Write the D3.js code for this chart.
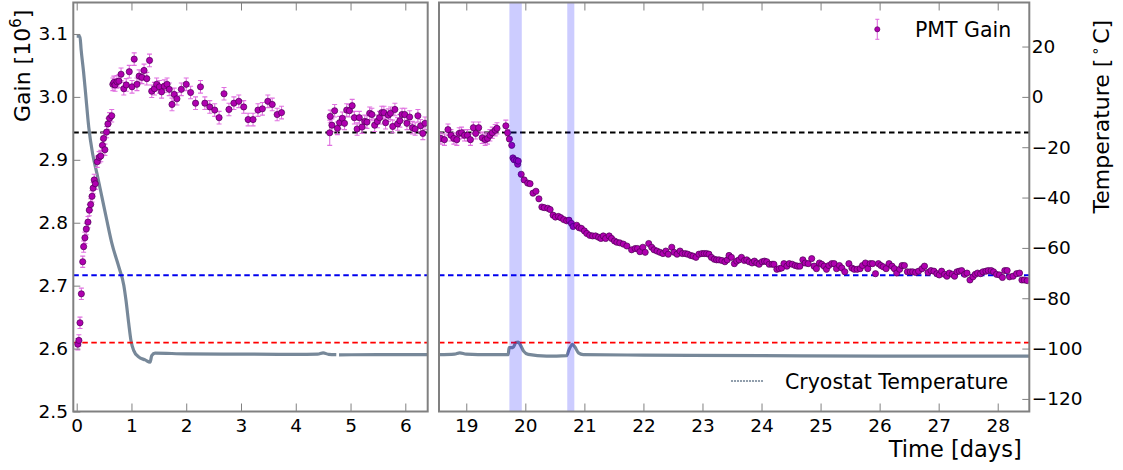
<!DOCTYPE html>
<html>
<head>
<meta charset="utf-8">
<script src="https://cdn.jsdelivr.net/npm/d3@7"></script>
<style>
  html, body { margin: 0; padding: 0; background: #fff; }
  svg { display: block; font-family: "DejaVu Sans", sans-serif; }
</style>
</head>
<body>
<svg id="chart" width="1123" height="470"></svg>
<script>
// ---- PMT gain, first period (days 0 - 6.4) ----
const gainDaysA = [0.02,0.04,0.06,0.085,0.11,0.127,0.15,0.175,0.206,0.23,0.255,0.28,0.30,0.32,0.34,0.376,0.41,0.44,0.47,0.49,0.515,0.545,0.57,0.60,0.64,
  0.66,0.68,0.70,0.735,0.77,0.81,0.86,0.905,0.96,1.01,1.05,1.10,1.14,1.19,1.23,1.28,1.33,1.37,1.42,1.46,1.51,1.55,1.60,1.65,1.69,1.74,1.78,1.83,1.91,
  2.00,2.08,2.17,2.26,2.34,2.43,2.52,2.60,2.69,2.78,2.87,2.96,3.05,3.13,3.22,3.31,3.39,3.49,3.57,3.66,3.74,
  4.62,4.63,4.66,4.71,4.76,4.80,4.85,4.89,4.93,4.98,5.03,5.07,5.12,5.16,5.21,5.26,5.30,5.35,5.39,5.44,5.49,5.53,5.57,5.61,5.64,5.69,5.73,5.77,5.81,5.86,5.90,5.94,5.99,6.03,6.08,6.13,6.18,6.23,6.28,6.32,6.36];
const gainValsA = [2.607,2.613,2.641,2.687,2.738,2.762,2.776,2.790,2.801,2.820,2.829,2.842,2.855,2.868,2.862,2.897,2.904,2.906,2.923,2.934,2.916,2.944,2.957,2.966,2.970,
  3.020,3.023,3.019,3.024,3.025,3.036,3.013,3.019,3.040,3.016,3.060,3.020,3.033,3.031,3.042,3.029,3.058,3.009,3.013,3.020,3.016,3.008,3.017,3.020,3.012,2.988,3.004,2.997,3.012,
  3.020,3.007,2.990,3.016,2.990,2.984,2.979,2.967,3.005,2.980,2.990,2.993,2.984,2.964,2.964,2.979,2.981,2.993,2.988,2.972,2.975,
  2.943,2.969,2.955,2.978,2.950,2.959,2.966,2.958,2.979,2.978,2.986,2.967,2.949,2.967,2.952,2.961,2.960,2.974,2.972,2.955,2.961,2.967,2.975,2.975,2.959,2.971,2.974,2.953,2.980,2.957,2.962,2.972,2.972,2.958,2.968,2.951,2.949,2.970,2.954,2.942,2.958];
const gainErrsA = [0.009,0.009,0.009,0.009,0.009,0.009,0.009,0.009,0.009,0.009,0.009,0.009,0.009,0.009,0.009,0.009,0.009,0.009,0.009,0.009,0.009,0.009,0.009,0.009,0.010,
  0.010,0.010,0.010,0.010,0.010,0.010,0.010,0.010,0.010,0.010,0.010,0.010,0.010,0.010,0.010,0.010,0.010,0.010,0.010,0.010,0.010,0.010,0.010,0.010,0.010,0.010,0.010,0.010,0.010,
  0.010,0.010,0.010,0.010,0.010,0.010,0.010,0.010,0.010,0.010,0.010,0.010,0.010,0.010,0.010,0.010,0.010,0.010,0.010,0.010,0.010,
  0.020,0.010,0.010,0.010,0.010,0.010,0.010,0.010,0.010,0.010,0.010,0.010,0.010,0.010,0.010,0.010,0.010,0.010,0.010,0.010,0.010,0.010,0.010,0.010,0.010,0.010,0.010,0.010,0.010,0.010,0.010,0.010,0.010,0.010,0.010,0.010,0.010,0.010,0.010,0.010,0.010];

// ---- PMT gain, second period (days 18.5 - 28.5) ----
const gainDaysB = [18.57,18.63,18.69,18.74,18.79,18.84,18.88,18.92,18.97,19.02,19.07,19.12,19.16,19.21,19.27,19.32,19.36,19.40,19.44,19.49,19.52,19.67,19.70,
  19.73,19.77,19.79,19.81,19.85,19.87,19.88,19.93,19.98,20.04,20.08,20.13,20.18,20.23,20.28,20.32,20.38,20.42,20.47,20.51,20.56,20.60,20.65,20.70,20.74,20.78,20.81,20.87,20.91,20.95,
  21.00,21.04,21.09,21.14,21.19,21.24,21.28,21.32,21.36,21.42,21.46,21.51,21.55,21.60,21.66,21.72,21.80,21.86,21.90,21.94,21.99,
  22.03,22.09,22.14,22.18,22.23,22.28,22.33,22.38,22.42,22.48,22.52,22.57,22.62,22.66,22.71,22.75,22.80,22.84,22.89,22.94,22.99,
  23.03,23.07,23.11,23.15,23.20,23.24,23.28,23.33,23.38,23.42,23.45,23.49,23.54,23.58,23.62,23.66,23.71,23.75,23.79,23.84,23.88,23.92,23.96,
  24.01,24.05,24.09,24.13,24.18,24.21,24.26,24.30,24.34,24.38,24.43,24.47,24.52,24.57,24.61,24.65,24.70,24.74,24.79,24.85,24.89,24.93,24.98,
  25.02,25.06,25.10,25.14,25.19,25.23,25.27,25.32,25.36,25.41,25.48,25.53,25.57,25.62,25.67,25.71,25.76,25.80,25.84,25.88,25.93,25.98,
  26.02,26.06,26.11,26.16,26.21,26.25,26.29,26.34,26.38,26.42,26.47,26.52,26.56,26.61,26.66,26.72,26.76,26.82,26.87,26.92,26.97,
  27.01,27.05,27.10,27.14,27.18,27.23,27.27,27.31,27.35,27.39,27.44,27.48,27.53,27.58,27.62,27.66,27.71,27.75,27.80,27.84,27.89,27.93,27.98,
  28.03,28.08,28.12,28.16,28.20,28.26,28.32,28.37,28.41,28.45,28.50];
const gainValsB = [2.934,2.932,2.948,2.939,2.934,2.932,2.942,2.943,2.939,2.939,2.932,2.951,2.942,2.951,2.935,2.932,2.934,2.939,2.943,2.947,2.950,2.954,2.943,
  2.933,2.923,2.903,2.900,2.899,2.893,2.898,2.877,2.868,2.863,2.862,2.847,2.850,2.838,2.825,2.824,2.823,2.821,2.812,2.809,2.810,2.808,2.805,2.803,2.804,2.799,2.794,2.796,2.792,2.791,
  2.787,2.783,2.780,2.779,2.779,2.777,2.775,2.779,2.775,2.779,2.775,2.771,2.769,2.768,2.766,2.763,2.757,2.759,2.759,2.754,2.761,
  2.753,2.767,2.761,2.757,2.755,2.753,2.751,2.755,2.750,2.761,2.753,2.750,2.755,2.751,2.751,2.750,2.748,2.747,2.745,2.750,2.751,
  2.751,2.751,2.750,2.745,2.742,2.741,2.741,2.740,2.738,2.741,2.748,2.745,2.735,2.739,2.741,2.745,2.740,2.741,2.738,2.736,2.739,2.736,2.734,
  2.738,2.739,2.738,2.734,2.734,2.734,2.726,2.727,2.728,2.735,2.731,2.735,2.734,2.732,2.731,2.731,2.741,2.736,2.735,2.743,2.731,2.727,2.736,
  2.734,2.731,2.726,2.732,2.735,2.735,2.727,2.732,2.728,2.722,2.735,2.728,2.726,2.726,2.727,2.732,2.736,2.727,2.735,2.735,2.719,2.735,
  2.732,2.730,2.727,2.735,2.731,2.727,2.720,2.726,2.732,2.732,2.722,2.722,2.722,2.721,2.723,2.727,2.731,2.721,2.724,2.723,2.719,
  2.717,2.723,2.718,2.715,2.720,2.718,2.715,2.722,2.723,2.724,2.718,2.720,2.709,2.714,2.718,2.720,2.719,2.722,2.723,2.724,2.724,2.722,2.718,
  2.717,2.713,2.724,2.724,2.714,2.715,2.719,2.720,2.709,2.709,2.708];
const gainErrsB = [0.009,0.009,0.009,0.009,0.009,0.009,0.009,0.009,0.009,0.009,0.009,0.009,0.009,0.009,0.009,0.009,0.009,0.009,0.009,0.009,0.009,0.009,0.005];

// ---- Cryostat temperature (deg C) ----
const tempDaysA = [0.0,0.02,0.06,0.08,0.125,0.16,0.22,0.29,0.37,0.46,0.55,0.64,0.77,0.86,0.90,0.95,0.99,1.04,1.13,1.25,1.34,1.37,1.43,2.0,3.0,4.0,4.4,4.5,4.6,4.74,null,4.79,5.5,6.41];
const tempValsA = [24.1,24.1,24.0,19.0,10.0,2.0,-12.0,-22.5,-30.5,-39.7,-49.0,-58.0,-67.6,-74.8,-80.8,-90.0,-96.7,-100.7,-103.3,-104.5,-105.4,-102.8,-101.8,-102.1,-102.2,-102.3,-102.2,-101.7,-102.3,-102.4,null,-102.5,-102.4,-102.4];
const tempDaysB = [18.54,18.8,18.89,19.0,19.4,19.71,19.725,19.79,19.84,19.88,19.92,19.97,20.05,20.36,20.70,20.74,20.80,20.84,20.90,20.98,22.0,24.0,26.0,28.54];
const tempValsB = [-102.4,-102.2,-101.7,-102.2,-102.4,-102.4,-99.6,-99.6,-97.6,-97.4,-98.7,-101.0,-102.3,-103.0,-102.8,-100.4,-98.3,-99.4,-101.7,-102.4,-102.6,-102.8,-103.0,-103.0];

// ---- reference gain levels and shaded intervals ----
const refLevels = [2.9434, 2.7165, 2.6095];
const refColors = ["#000000", "#0000ee", "#ff0000"];
const bandStarts = [19.73, 20.71];
const bandEnds = [19.94, 20.83];

const xTicksA = [0,1,2,3,4,5,6];
const xTicksB = [19,20,21,22,23,24,25,26,27,28];
const gainTicks = [2.5,2.6,2.7,2.8,2.9,3.0,3.1];
const tempTicks = [-120,-100,-80,-60,-40,-20,0,20];

// ---------------------------------------------------------------
const svg = d3.select("#chart");
const plotTop = 2.5, plotBottom = 411.5;
const gray = "#808080";
const markFill = "#b000b0", markStroke = "#4d0055", errColor = "#e070e0";
const tempColor = "#778899";

const y = d3.scaleLinear().domain([2.5, 3.15]).range([plotBottom, plotTop]);
const yT = d3.scaleLinear().domain([-125, 37.5]).range([plotBottom, plotTop]);

const panels = [
  { id: "a", x0: 73.3, x1: 427.7, domain: [-0.062, 6.409], days: gainDaysA, vals: gainValsA, errs: gainErrsA,
    tDays: tempDaysA, tVals: tempValsA, ticks: xTicksA },
  { id: "b", x0: 439, x1: 1029.3, domain: [18.538, 28.535], days: gainDaysB, vals: gainValsB, errs: gainErrsB,
    tDays: tempDaysB, tVals: tempValsB, ticks: xTicksB }
];

const defs = svg.append("defs");

panels.forEach(p => {
  const x = d3.scaleLinear().domain(p.domain).range([p.x0, p.x1]);
  defs.append("clipPath").attr("id", "clip-" + p.id)
    .append("rect").attr("x", p.x0).attr("y", plotTop).attr("width", p.x1 - p.x0).attr("height", plotBottom - plotTop);

  const g = svg.append("g").attr("clip-path", `url(#clip-${p.id})`);

  // temperature trace
  const line = d3.line()
    .defined((d, i) => p.tDays[i] !== null)
    .x((d, i) => x(p.tDays[i]))
    .y((d, i) => yT(p.tVals[i]))
    .curve(d3.curveMonotoneX);
  g.append("path").datum(p.tVals).attr("d", line)
    .attr("fill", "none").attr("stroke", tempColor).attr("stroke-width", 3.2)
    .attr("stroke-linejoin", "round");

  // reference levels
  refLevels.forEach((lv, i) => {
    g.append("line").attr("x1", p.x0).attr("x2", p.x1)
      .attr("y1", y(lv)).attr("y2", y(lv))
      .attr("stroke", refColors[i]).attr("stroke-width", 1.8)
      .attr("stroke-dasharray", "5.5,3.5");
  });

  // error bars
  const pts = p.days.map((d, i) => ({ t: d, v: p.vals[i], e: i < p.errs.length ? p.errs[i] : 0 }));
  const eb = g.append("g").attr("stroke", errColor).attr("stroke-width", 1.1);
  pts.filter(d => d.e > 0).forEach(d => {
    const cx = x(d.t), ya = y(d.v - d.e), yb = y(d.v + d.e);
    eb.append("line").attr("x1", cx).attr("x2", cx).attr("y1", ya).attr("y2", yb);
    eb.append("line").attr("x1", cx - 2.5).attr("x2", cx + 2.5).attr("y1", ya).attr("y2", ya);
    eb.append("line").attr("x1", cx - 2.5).attr("x2", cx + 2.5).attr("y1", yb).attr("y2", yb);
  });

  // gain markers
  g.append("g").selectAll("circle").data(pts).join("circle")
    .attr("cx", d => x(d.t)).attr("cy", d => y(d.v)).attr("r", 3.1)
    .attr("fill", markFill).attr("stroke", markStroke).attr("stroke-width", 0.7);

  // shaded intervals
  bandStarts.forEach((b, i) => {
    if (b >= p.domain[0] && b <= p.domain[1]) {
      g.append("rect").attr("x", x(b)).attr("width", x(bandEnds[i]) - x(b))
        .attr("y", plotTop).attr("height", plotBottom - plotTop)
        .attr("fill", "rgb(0,0,255)").attr("fill-opacity", 0.2);
    }
  });

  // x axes (ticks inside on top and bottom)
  const axB = svg.append("g").attr("transform", `translate(0,${plotBottom})`)
    .call(d3.axisBottom(x).tickValues(p.ticks).tickFormat(d3.format("d")).tickSize(-8).tickPadding(7.4));
  const axT = svg.append("g").attr("transform", `translate(0,${plotTop})`)
    .call(d3.axisTop(x).tickValues(p.ticks).tickFormat("").tickSize(-8));
  [axB, axT].forEach(a => {
    a.select(".domain").remove();
    a.selectAll(".tick line").attr("stroke", gray).attr("stroke-width", 1);
  });
  axB.selectAll("text").attr("font-size", 18.5).attr("fill", "#000").attr("font-family", "DejaVu Sans");

  // frame
  svg.append("rect").attr("x", p.x0).attr("y", plotTop).attr("width", p.x1 - p.x0).attr("height", plotBottom - plotTop)
    .attr("fill", "none").attr("stroke", gray).attr("stroke-width", 2);
});

// left gain axis
const axL = svg.append("g").attr("transform", `translate(${panels[0].x0},0)`)
  .call(d3.axisLeft(y).tickValues(gainTicks).tickFormat(d3.format(".1f")).tickSize(-7).tickPadding(5.3));
axL.select(".domain").remove();
axL.selectAll(".tick line").attr("stroke", gray);
axL.selectAll("text").attr("font-size", 18.5).attr("fill", "#000").attr("font-family", "DejaVu Sans");

// right temperature axis
const axR = svg.append("g").attr("transform", `translate(${panels[1].x1},0)`)
  .call(d3.axisRight(yT).tickValues(tempTicks).tickFormat(d3.format("d")).tickSize(-7).tickPadding(2.4));
axR.select(".domain").remove();
axR.selectAll(".tick line").attr("stroke", gray);
axR.selectAll("text").attr("font-size", 18.5).attr("fill", "#000").attr("font-family", "DejaVu Sans");

// axis titles
const gl = svg.append("text").attr("transform", "translate(30,122) rotate(-90)")
  .attr("font-size", 22).attr("text-anchor", "start");
gl.append("tspan").text("Gain [10");
gl.append("tspan").attr("font-size", 15).attr("dy", -9).text("6");
gl.append("tspan").attr("dy", 9).text("]");

const tl = svg.append("text").attr("transform", "translate(1108.5,213.5) rotate(-90)")
  .attr("font-size", 22).attr("text-anchor", "start");
tl.append("tspan").text("Temperature [");
tl.append("tspan").attr("font-size", 14).attr("dy", -9).attr("dx", 3).text("\u2218");
tl.append("tspan").attr("dy", 9).attr("dx", 3).text("C]");

svg.append("text").attr("x", 1021.7).attr("y", 456.7).attr("text-anchor", "end")
  .attr("font-size", 22.5).text("Time [days]");

// legend: PMT Gain
const lg = svg.append("g");
lg.append("line").attr("x1", 877.3).attr("x2", 877.3).attr("y1", 19.3).attr("y2", 39.3).attr("stroke", errColor).attr("stroke-width", 1.1);
lg.append("line").attr("x1", 875.3).attr("x2", 879.3).attr("y1", 19.3).attr("y2", 19.3).attr("stroke", errColor).attr("stroke-width", 1.1);
lg.append("line").attr("x1", 875.3).attr("x2", 879.3).attr("y1", 39.3).attr("y2", 39.3).attr("stroke", errColor).attr("stroke-width", 1.1);
lg.append("circle").attr("cx", 877.3).attr("cy", 29.3).attr("r", 2.6).attr("fill", markFill).attr("stroke", markStroke).attr("stroke-width", 0.6);
lg.append("text").attr("x", 915).attr("y", 36.7).attr("font-size", 20.5).text("PMT Gain");

// legend: Cryostat Temperature
const lt = svg.append("g");
lt.selectAll("circle").data(d3.range(732, 764, 3)).join("circle")
  .attr("cx", d => d).attr("cy", 381).attr("r", 1.1).attr("fill", tempColor);
lt.append("text").attr("x", 785).attr("y", 389.3).attr("font-size", 20.5).text("Cryostat Temperature");
</script>
</body>
</html>
